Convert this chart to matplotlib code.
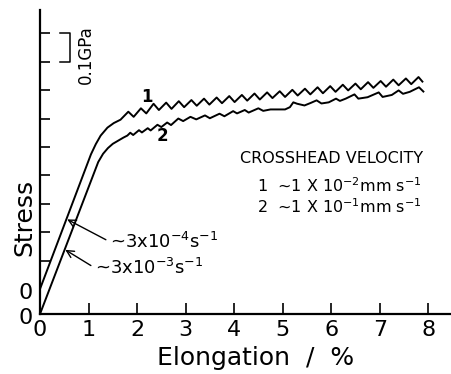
import matplotlib
matplotlib.use('Agg')
import matplotlib.pyplot as plt
from matplotlib.transforms import offset_copy

# curve 1 (crosshead ~1x10^-2 mm/s), shifted up by its own zero
c1_x = [0.0, 1.05, 1.15, 1.25, 1.39, 1.52, 1.66, 1.82, 1.93, 2.08, 2.19, 2.34,
        2.45, 2.60, 2.71, 2.86, 2.97, 3.12, 3.23, 3.38, 3.49, 3.64, 3.75, 3.90,
        4.01, 4.16, 4.27, 4.42, 4.53, 4.68, 4.79, 4.94, 5.05, 5.20, 5.31, 5.46,
        5.57, 5.72, 5.83, 5.98, 6.09, 6.24, 6.35, 6.50, 6.61, 6.76, 6.87, 7.02,
        7.13, 7.28, 7.39, 7.54, 7.65, 7.80, 7.88]
c1_y = [0.088, 0.562, 0.598, 0.628, 0.656, 0.672, 0.684, 0.712, 0.694, 0.724,
        0.706, 0.740, 0.718, 0.744, 0.722, 0.749, 0.728, 0.753, 0.733, 0.758,
        0.737, 0.762, 0.742, 0.767, 0.746, 0.771, 0.751, 0.776, 0.755, 0.780,
        0.760, 0.784, 0.764, 0.789, 0.769, 0.793, 0.773, 0.798, 0.777, 0.802,
        0.782, 0.807, 0.787, 0.811, 0.791, 0.816, 0.796, 0.820, 0.800, 0.825,
        0.805, 0.829, 0.809, 0.834, 0.818]

# curve 2 (crosshead ~1x10^-1 mm/s)
c2_x = [0.0, 1.20, 1.30, 1.40, 1.50, 1.62, 1.72, 1.80, 1.86, 1.92, 2.04, 2.10,
        2.22, 2.28, 2.42, 2.50, 2.62, 2.70, 2.85, 2.95, 3.10, 3.22, 3.40, 3.50,
        3.70, 3.80, 3.98, 4.06, 4.22, 4.30, 4.50, 4.60, 4.75, 5.05, 5.15, 5.22,
        5.30, 5.45, 5.58, 5.70, 5.80, 5.95, 6.10, 6.18, 6.30, 6.48, 6.56, 6.75,
        6.98, 7.06, 7.25, 7.39, 7.48, 7.62, 7.81, 7.90]
c2_y = [0.0, 0.535, 0.564, 0.584, 0.599, 0.611, 0.621, 0.628, 0.638, 0.630,
        0.647, 0.639, 0.654, 0.646, 0.666, 0.658, 0.674, 0.665, 0.688, 0.679,
        0.694, 0.685, 0.699, 0.689, 0.705, 0.696, 0.714, 0.706, 0.718, 0.709,
        0.724, 0.715, 0.720, 0.720, 0.728, 0.745, 0.740, 0.734, 0.743, 0.752,
        0.741, 0.745, 0.758, 0.750, 0.758, 0.773, 0.758, 0.763, 0.780, 0.764,
        0.771, 0.787, 0.775, 0.782, 0.798, 0.783]

x_ticks = [0, 1, 2, 3, 4, 5, 6, 7, 8]
stress_ticks = [0.188, 0.288, 0.388, 0.488, 0.588, 0.688, 0.788, 0.888, 0.988]
zero_marks = [0.0, 0.088]

fig = plt.figure(figsize=(4.52, 3.74), dpi=100)
ax = fig.add_axes([40/452, 60/374, 412/452, 304/374])

ax.plot(c1_x, c1_y, color='black', lw=1.4)
ax.plot(c2_x, c2_y, color='black', lw=1.4)

ax.set_xlim(0, 8.49)
ax.set_ylim(0, 1.07)
for s in ['top', 'right']:
    ax.spines[s].set_visible(False)
for s in ['left', 'bottom']:
    ax.spines[s].set_linewidth(1.6)

ax.set_xticks(x_ticks)
ax.tick_params(axis='x', direction='in', length=8, width=1.2, labelsize=16, pad=4)
ax.set_yticks(zero_marks, labels=['0', '0'])
ax.set_yticks(stress_ticks, minor=True)
ax.tick_params(axis='y', which='major', length=0, labelsize=16, pad=5)
ax.tick_params(axis='y', which='minor', direction='in', length=7, width=1.2)
# nudge the two zero labels down a little
for lab in ax.get_yticklabels():
    lab.set_transform(offset_copy(lab.get_transform(), fig=fig, x=0, y=-2.5, units='dots'))

fig.text(24/452, 1 - 217/374, 'Stress', rotation=90, ha='center', va='center', fontsize=18)
fig.text(256/452, 1 - 358/374, 'Elongation  /  %', ha='center', va='center', fontsize=18)

# scale bar 0.1 GPa between the two top ticks
ax.plot([0.41, 0.62, 0.62, 0.41], [stress_ticks[-1], stress_ticks[-1], stress_ticks[-2], stress_ticks[-2]],
        color='black', lw=1.1)
ax.text(0.95, 0.912, '0.1GPa', rotation=90, ha='center', va='center', fontsize=12)

ax.text(2.21, 0.765, '1', ha='center', va='center', fontsize=12, fontweight='bold')
ax.text(2.52, 0.627, '2', ha='center', va='center', fontsize=12, fontweight='bold')

ax.text(4.12, 0.549, 'CROSSHEAD VELOCITY', ha='left', va='center', fontsize=11.5)
ax.text(4.47, 0.451, '1  ~1 X 10$^{-2}$mm s$^{-1}$', ha='left', va='center', fontsize=11.5)
ax.text(4.47, 0.377, '2  ~1 X 10$^{-1}$mm s$^{-1}$', ha='left', va='center', fontsize=11.5)

arrow = dict(arrowstyle='->', lw=1.0, color='black', shrinkA=1, shrinkB=0, relpos=(0, 0.5))
ax.annotate('~3x10$^{-4}$s$^{-1}$', xy=(0.56, 0.333), xytext=(1.44, 0.254),
            ha='left', va='center', fontsize=13, arrowprops=arrow)
ax.annotate('~3x10$^{-3}$s$^{-1}$', xy=(0.52, 0.226), xytext=(1.13, 0.162),
            ha='left', va='center', fontsize=13, arrowprops=arrow)

fig.savefig('out.png', dpi=100)
